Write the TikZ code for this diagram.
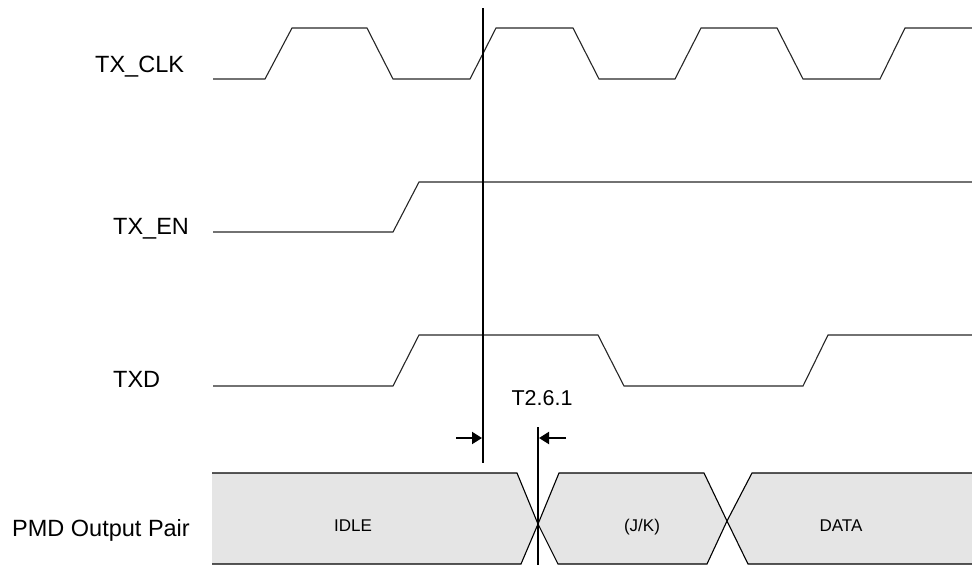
\documentclass[tikz,border=0pt]{standalone}
\usepackage{fontspec}
\setmainfont{Liberation Sans}
\usetikzlibrary{arrows.meta}
\begin{document}
\begin{tikzpicture}[x=1pt,y=-1pt,
  wave/.style={line width=1.1pt, draw=black!85, line join=miter},
  marker/.style={line width=2pt, draw=black},
  dimarrow/.style={line width=2pt, -{Triangle[length=10pt,width=12pt]}},
  sig/.style={font=\fontsize{23.5}{28}\selectfont, anchor=base west, inner sep=0pt},
  state/.style={font=\fontsize{17}{20}\selectfont, anchor=base, inner sep=0pt},
  bus/.style={fill=black!10, draw=none},
  busedge/.style={line width=1.1pt, draw=black}]
\useasboundingbox (0,0) rectangle (972,565);

% signal labels
\node[sig] (lclk) at (95,72) {TX\_CLK};
\node[sig] (len) at (113,234) {TX\_EN};
\node[sig] (ltxd) at (113,387) {TXD};
\node[sig] (lpmd) at (12,536) {PMD Output Pair};

% TX_CLK
\draw[wave] (213,79) -- (265,79) -- (292,28) -- (367,28) -- (393,79) -- (470,79) -- (496,28) -- (573,28) -- (599,79) -- (675,79) -- (701,28) -- (777,28) -- (803,79) -- (880,79) -- (905,28) -- (972,28);
% TX_EN
\draw[wave] (213,232) -- (393,232) -- (419,182) -- (972,182);
% TXD
\draw[wave] (213,386) -- (393,386) -- (419,335) -- (598,335) -- (624,386) -- (803,386) -- (828,335) -- (972,335);

% PMD output pair (bus)
\fill[bus] (212,473) -- (517,473) -- (538,524) -- (521,564) -- (212,564) -- cycle;
\draw[busedge] (212,473) -- (517,473) -- (538,524) -- (521,564) -- (212,564);
\fill[bus] (559,473) -- (704,473) -- (727,521) -- (707,564) -- (558,564) -- (538,524) -- cycle;
\draw[busedge] (559,473) -- (704,473) -- (727,521) -- (707,564) -- (558,564) -- (538,524) -- cycle;
\fill[bus] (752,473) -- (972,473) -- (972,564) -- (748,564) -- (727,521) -- cycle;
\draw[busedge] (972,473) -- (752,473) -- (727,521) -- (748,564) -- (972,564);

\node[state] (idle) at (353,531) {IDLE};
\node[state] (jk) at (642,531) {(J/K)};
\node[state] (data) at (841,531) {DATA};

% timing markers
\coordinate (m1t) at (483,8);
\coordinate (m1b) at (483,463);
\coordinate (m2t) at (538,427);
\coordinate (m2b) at (538,565);
\draw[marker] (m1t) -- (m1b);
\draw[marker] (m2t) -- (m2b);

\coordinate (a1s) at (456,438);
\coordinate (a1e) at (482,438);
\coordinate (a2s) at (566,438);
\coordinate (a2e) at (539,438);
\draw[dimarrow] (a1s) -- (a1e);
\draw[dimarrow] (a2s) -- (a2e);

\node[font=\fontsize{21.5}{26}\selectfont, anchor=base, inner sep=0pt] (t) at (542,405) {T2.6.1};
\end{tikzpicture}
\end{document}
